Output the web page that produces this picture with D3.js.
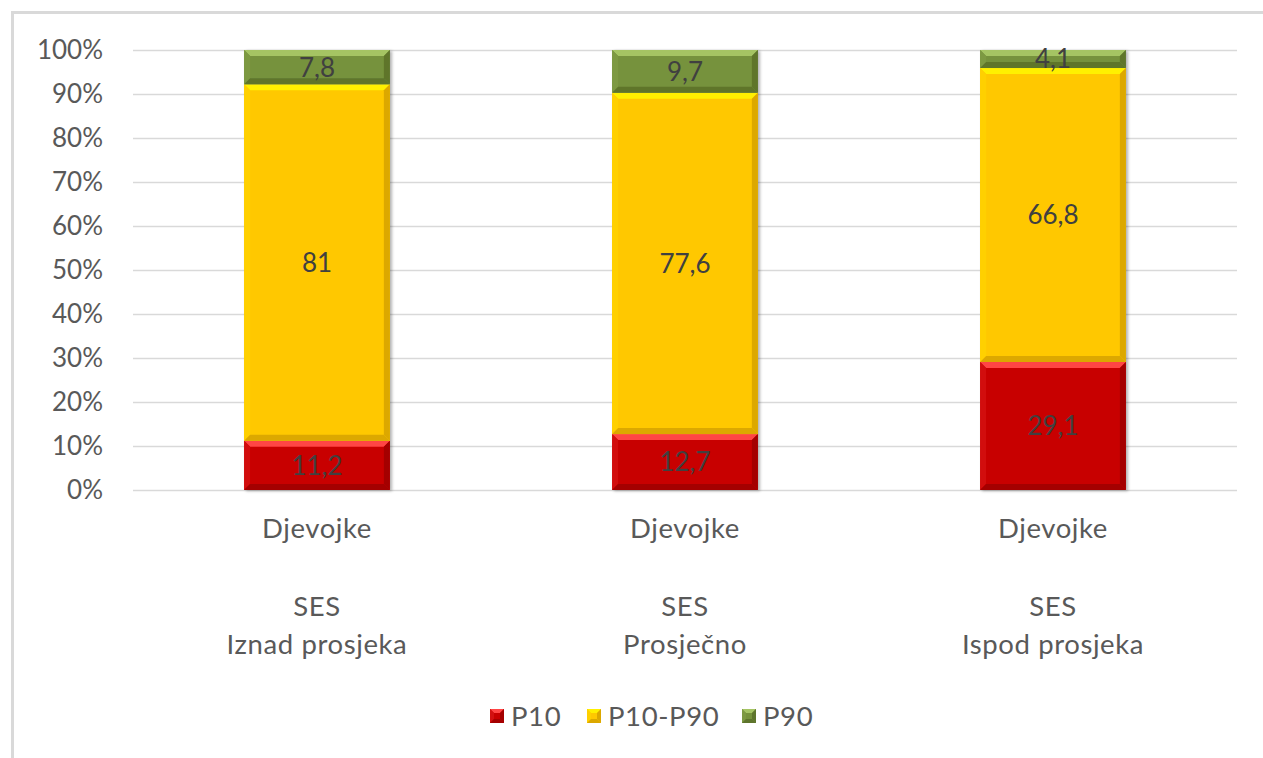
<!DOCTYPE html>
<html>
<head>
<meta charset="utf-8">
<script src="https://cdn.jsdelivr.net/npm/d3@7"></script>
<style>
  html, body { margin: 0; padding: 0; background: #fff; }
  svg { display: block; }
  text { font-family: Lato, "Open Sans", sans-serif; }
</style>
</head>
<body>
<svg id="chart" width="1263" height="758"></svg>
<script>
// Share of girls by SES group in three achievement bands (stacked to 100%)
const groupLabels = ["Djevojke", "Djevojke", "Djevojke"];
const sesLabels = ["Iznad prosjeka", "Prosječno", "Ispod prosjeka"];
const seriesNames = ["P10", "P10-P90", "P90"];
const p10Values = [11.2, 12.7, 29.1];
const midValues = [81, 77.6, 66.8];
const p90Values = [7.8, 9.7, 4.1];
const yTicks = [0, 10, 20, 30, 40, 50, 60, 70, 80, 90, 100];

// Fill, highlight (top/left) and shade (bottom/right) for each band
const palette = {
  "P10":     { base: "#c80000", light: "#ff4545", side: "#d21010", dark: "#a40000" },
  "P10-P90": { base: "#ffc800", light: "#fff000", side: "#ffd000", dark: "#dca800" },
  "P90":     { base: "#76923c", light: "#a5c464", side: "#7d9942", dark: "#5e752c" }
};

const rows = groupLabels.map((g, i) => ({
  key: i, group: g, ses: sesLabels[i],
  "P10": p10Values[i], "P10-P90": midValues[i], "P90": p90Values[i]
}));

const svg = d3.select("#chart");
const margin = { left: 133, right: 26, top: 50, bottom: 268 };
const W = 1263, H = 758;

// Outer chart frame
svg.append("rect")
  .attr("x", 12.5).attr("y", 12.5)
  .attr("width", W + 20).attr("height", H + 20)
  .attr("fill", "none").attr("stroke", "#d9d9d9").attr("stroke-width", 3);

const x = d3.scaleBand()
  .domain(rows.map(d => d.key))
  .range([margin.left, W - margin.right])
  .paddingInner(0.604)
  .paddingOuter(0.302);

const y = d3.scaleLinear()
  .domain([0, 100])
  .range([H - margin.bottom, margin.top]);

// Horizontal gridlines and percentage labels
const yAxis = d3.axisLeft(y)
  .tickValues(yTicks)
  .tickSize(-(W - margin.right - margin.left))
  .tickPadding(30)
  .tickFormat(d => d + "%");

const yG = svg.append("g")
  .attr("transform", `translate(${margin.left},0)`)
  .call(yAxis);
yG.select(".domain").remove();
yG.selectAll(".tick line").attr("stroke", "#d9d9d9").attr("stroke-width", 1.6);
yG.selectAll(".tick text")
  .attr("fill", "#595959")
  .style("font-size", "26px")
  .attr("dy", "0.34em");

// Soft drop shadow under the bars
const defs = svg.append("defs");
const f = defs.append("filter").attr("id", "shadow")
  .attr("x", "-10%").attr("y", "-10%").attr("width", "130%").attr("height", "130%");
f.append("feDropShadow")
  .attr("dx", 2).attr("dy", 1).attr("stdDeviation", 1.6)
  .attr("flood-color", "#000").attr("flood-opacity", 0.3);

const stack = d3.stack().keys(seriesNames);
const layers = stack(rows);

// Draw a bevelled rectangle (flat face with lit top edge and shaded lower edge)
function bevel(g, x0, y0, w, h, c, bMax) {
  const b = Math.min(bMax, h / 2, w / 2);
  g.append("rect").attr("x", x0).attr("y", y0).attr("width", w).attr("height", h).attr("fill", c.base);
  const poly = (pts, fill) => g.append("polygon")
    .attr("points", pts.map(p => p.join(",")).join(" ")).attr("fill", fill);
  poly([[x0, y0], [x0 + w, y0], [x0 + w - b, y0 + b], [x0 + b, y0 + b]], c.light);
  poly([[x0, y0], [x0 + b, y0 + b], [x0 + b, y0 + h - b], [x0, y0 + h]], c.side);
  poly([[x0 + w, y0], [x0 + w, y0 + h], [x0 + w - b, y0 + h - b], [x0 + w - b, y0 + b]], c.dark);
  poly([[x0, y0 + h], [x0 + b, y0 + h - b], [x0 + w - b, y0 + h - b], [x0 + w, y0 + h]], c.dark);
}

const barsG = svg.append("g").attr("filter", "url(#shadow)");
layers.forEach(layer => {
  const c = palette[layer.key];
  layer.forEach(d => {
    const x0 = x(d.data.key);
    const y0 = y(d[1]);
    const h = y(d[0]) - y(d[1]);
    bevel(barsG.append("g"), x0, y0, x.bandwidth(), h, c, 6);
  });
});

// Value labels inside each segment
const fmt = v => String(v).replace(".", ",");
const labelsG = svg.append("g");
layers.forEach(layer => {
  layer.forEach(d => {
    labelsG.append("text")
      .attr("x", x(d.data.key) + x.bandwidth() / 2)
      .attr("y", (y(d[0]) + y(d[1])) / 2)
      .attr("dy", "0.36em")
      .attr("text-anchor", "middle")
      .attr("fill", "#404040")
      .style("font-size", "26px")
      .text(fmt(d.data[layer.key]));
  });
});

// Multi-line category labels
const catG = svg.append("g");
rows.forEach(d => {
  const t = catG.append("text")
    .attr("text-anchor", "middle")
    .attr("fill", "#595959")
    .style("font-size", "27.5px")
    .style("letter-spacing", "0.6px");
  const cx = x(d.key) + x.bandwidth() / 2;
  [[d.group, 538], ["SES", 616], [d.ses, 654]].forEach(([s, yy]) => {
    t.append("tspan").attr("x", cx).attr("y", yy).text(s);
  });
});

// Legend
const legendX = [490, 587, 742];
const legendG = svg.append("g");
seriesNames.forEach((name, i) => {
  const g = legendG.append("g");
  bevel(g, legendX[i], 709, 14, 14, palette[name], 4);
  legendG.append("text")
    .attr("x", legendX[i] + 21)
    .attr("y", 716)
    .attr("dy", "0.36em")
    .attr("fill", "#595959")
    .style("font-size", "27.5px")
    .style("letter-spacing", "0.6px")
    .text(name);
});
</script>
</body>
</html>
